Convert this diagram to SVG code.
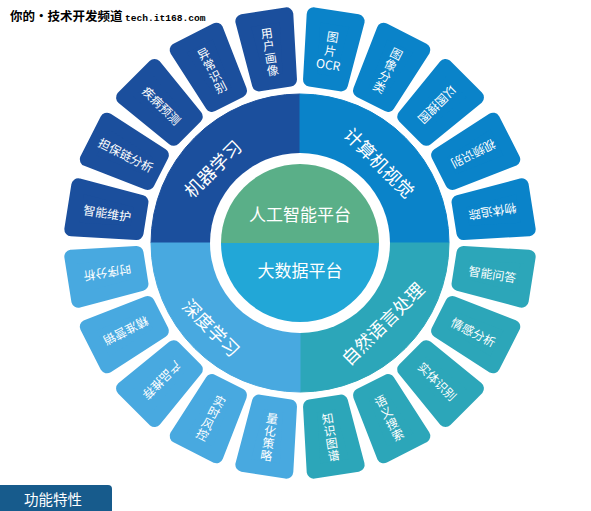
<svg xmlns="http://www.w3.org/2000/svg" width="591" height="511" viewBox="0 0 591 511">
<style>
.q1{fill:#1b4f9d;stroke:#1b4f9d}
.q2{fill:#0a83c9;stroke:#0a83c9}
.q3{fill:#48a9e0;stroke:#48a9e0}
.q4{fill:#2ca6b9;stroke:#2ca6b9}
.tile{stroke-width:14;stroke-linejoin:round}
.t{fill:#fff;font-family:"Noto Sans CJK SC","Noto Sans",sans-serif;font-size:12px;text-anchor:middle;dominant-baseline:central}
.r{fill:#fff;font-family:"Noto Sans CJK SC",sans-serif;font-size:18px;text-anchor:middle;dominant-baseline:central}
.c{fill:#fff;font-family:"Noto Sans CJK SC",sans-serif;font-size:17px;text-anchor:middle;dominant-baseline:central}
</style>
<defs>
<path id="tile" d="M-22.25,-228 L22.25,-228 L15.67,-163 L-15.67,-163 Z"/>
</defs>
<rect width="591" height="511" fill="#fff"/>
<g id="header">
<text x="10" y="21" font-family="Noto Sans CJK SC,sans-serif" font-size="12.5" font-weight="bold" fill="#000">你的·技术开发频道</text>
<text x="125" y="21" font-family="Liberation Mono,monospace" font-size="9.6" font-weight="bold" fill="#000">tech.it168.com</text>
</g>
<g id="connectors"></g>
<g id="quadrant-ml"><path class="q1" d="M300,243 L151,243 A149,149 0 0 1 300,94 Z"/><text class="r" transform="translate(212,168) rotate(-45)">机器学习</text></g>
<g id="quadrant-cv"><path class="q2" d="M300,243 L300,94 A149,149 0 0 1 449,243 Z"/><text class="r" transform="translate(380,162) rotate(45)">计算机视觉</text></g>
<g id="quadrant-nlp"><path class="q4" d="M300,243 L449,243 A149,149 0 0 1 300,392 Z"/><text class="r" transform="translate(382,323) rotate(-45)">自然语言处理</text></g>
<g id="quadrant-dl"><path class="q3" d="M300,243 L300,392 A149,149 0 0 1 151,243 Z"/><text class="r" transform="translate(212,327) rotate(45)">深度学习</text></g>
<circle cx="300" cy="243" r="90" fill="#fff"/>
<g id="ai-platform"><path d="M221,243 A79,79 0 0 1 379,243 Z" fill="#5aaf88"/><text class="c" x="300" y="213">人工智能平台</text></g>
<g id="bigdata-platform"><path d="M221,243 A79,79 0 0 0 379,243 Z" fill="#22a7d7"/><text class="c" x="300" y="269">大数据平台</text></g>

<g id="t-yonghu"><use href="#tile" class="q1 tile" transform="translate(300,243) rotate(-9)"/>
<text class="t" transform="translate(300,243) rotate(-9) translate(0,-195)"><tspan x="0" y="-18.75">用</tspan><tspan x="0" y="-6.25">户</tspan><tspan x="0" y="6.25">画</tspan><tspan x="0" y="18.75">像</tspan></text></g>
<g id="t-yichang"><use href="#tile" class="q1 tile" transform="translate(300,243) rotate(-27)"/>
<text class="t" transform="translate(300,243) rotate(-27) translate(0,-195)"><tspan x="0" y="-18.75">异</tspan><tspan x="0" y="-6.25">常</tspan><tspan x="0" y="6.25">识</tspan><tspan x="0" y="18.75">别</tspan></text></g>
<g id="t-jibing"><use href="#tile" class="q1 tile" transform="translate(300,243) rotate(-45)"/>
<text class="t" transform="translate(300,243) rotate(-45) translate(0,-195) rotate(90)">疾病预测</text></g>
<g id="t-danbao"><use href="#tile" class="q1 tile" transform="translate(300,243) rotate(-63)"/>
<text class="t" transform="translate(300,243) rotate(-63) translate(0,-195) rotate(90)">担保链分析</text></g>
<g id="t-weihu"><use href="#tile" class="q1 tile" transform="translate(300,243) rotate(-81)"/>
<text class="t" transform="translate(300,243) rotate(-81) translate(0,-195) rotate(90)">智能维护</text></g>

<g id="t-ocr"><use href="#tile" class="q2 tile" transform="translate(300,243) rotate(9)"/>
<text class="t" transform="translate(300,243) rotate(9) translate(0,-196)"><tspan x="0" y="-14">图</tspan><tspan x="0" y="0">片</tspan><tspan x="0" y="14">OCR</tspan></text></g>
<g id="t-fenlei"><use href="#tile" class="q2 tile" transform="translate(300,243) rotate(27)"/>
<text class="t" transform="translate(300,243) rotate(27) translate(0,-195)"><tspan x="0" y="-18.75">图</tspan><tspan x="0" y="-6.25">像</tspan><tspan x="0" y="6.25">分</tspan><tspan x="0" y="18.75">类</tspan></text></g>
<g id="t-yitu"><use href="#tile" class="q2 tile" transform="translate(300,243) rotate(45)"/>
<text class="t" transform="translate(300,243) rotate(45) translate(0,-195) rotate(90)">以图搜图</text></g>
<g id="t-shipin"><use href="#tile" class="q2 tile" transform="translate(300,243) rotate(63)"/>
<text class="t" transform="translate(300,243) rotate(63) translate(0,-195) rotate(90)">视频识别</text></g>
<g id="t-zhuizong"><use href="#tile" class="q2 tile" transform="translate(300,243) rotate(81)"/>
<text class="t" transform="translate(300,243) rotate(81) translate(0,-195) rotate(90)">物体追踪</text></g>

<g id="t-wenda"><use href="#tile" class="q4 tile" transform="translate(300,243) rotate(99)"/>
<text class="t" transform="translate(300,243) rotate(99) translate(0,-195) rotate(-90)">智能问答</text></g>
<g id="t-qinggan"><use href="#tile" class="q4 tile" transform="translate(300,243) rotate(117)"/>
<text class="t" transform="translate(300,243) rotate(117) translate(0,-195) rotate(-90)">情感分析</text></g>
<g id="t-shiti"><use href="#tile" class="q4 tile" transform="translate(300,243) rotate(135)"/>
<text class="t" transform="translate(300,243) rotate(135) translate(0,-195) rotate(-90)">实体识别</text></g>
<g id="t-yuyi"><use href="#tile" class="q4 tile" transform="translate(300,243) rotate(153)"/>
<text class="t" transform="translate(300,243) rotate(153) translate(0,-195) rotate(180)"><tspan x="0" y="-18.75">语</tspan><tspan x="0" y="-6.25">义</tspan><tspan x="0" y="6.25">搜</tspan><tspan x="0" y="18.75">索</tspan></text></g>
<g id="t-zhishi"><use href="#tile" class="q4 tile" transform="translate(300,243) rotate(171)"/>
<text class="t" transform="translate(300,243) rotate(171) translate(0,-195) rotate(180)"><tspan x="0" y="-18.75">知</tspan><tspan x="0" y="-6.25">识</tspan><tspan x="0" y="6.25">图</tspan><tspan x="0" y="18.75">谱</tspan></text></g>

<g id="t-shixu"><use href="#tile" class="q3 tile" transform="translate(300,243) rotate(-99)"/>
<text class="t" transform="translate(300,243) rotate(-99) translate(0,-195) rotate(-90)">时序分析</text></g>
<g id="t-yingxiao"><use href="#tile" class="q3 tile" transform="translate(300,243) rotate(-117)"/>
<text class="t" transform="translate(300,243) rotate(-117) translate(0,-195) rotate(-90)">精准营销</text></g>
<g id="t-tuijian"><use href="#tile" class="q3 tile" transform="translate(300,243) rotate(-135)"/>
<text class="t" transform="translate(300,243) rotate(-135) translate(0,-195) rotate(-90)">产品推荐</text></g>
<g id="t-fengkong"><use href="#tile" class="q3 tile" transform="translate(300,243) rotate(-153)"/>
<text class="t" transform="translate(300,243) rotate(-153) translate(0,-195) rotate(180)"><tspan x="0" y="-18.75">实</tspan><tspan x="0" y="-6.25">时</tspan><tspan x="0" y="6.25">风</tspan><tspan x="0" y="18.75">控</tspan></text></g>
<g id="t-lianghua"><use href="#tile" class="q3 tile" transform="translate(300,243) rotate(-171)"/>
<text class="t" transform="translate(300,243) rotate(-171) translate(0,-195) rotate(180)"><tspan x="0" y="-18.75">量</tspan><tspan x="0" y="-6.25">化</tspan><tspan x="0" y="6.25">策</tspan><tspan x="0" y="18.75">略</tspan></text></g>

<g id="feature-label"><rect x="-10" y="485" width="122" height="40" rx="4" fill="#175b8c"/><text x="53" y="498.5" font-family="Noto Sans CJK SC,sans-serif" font-size="14.5" fill="#fff" text-anchor="middle" dominant-baseline="central">功能特性</text></g>
</svg>
